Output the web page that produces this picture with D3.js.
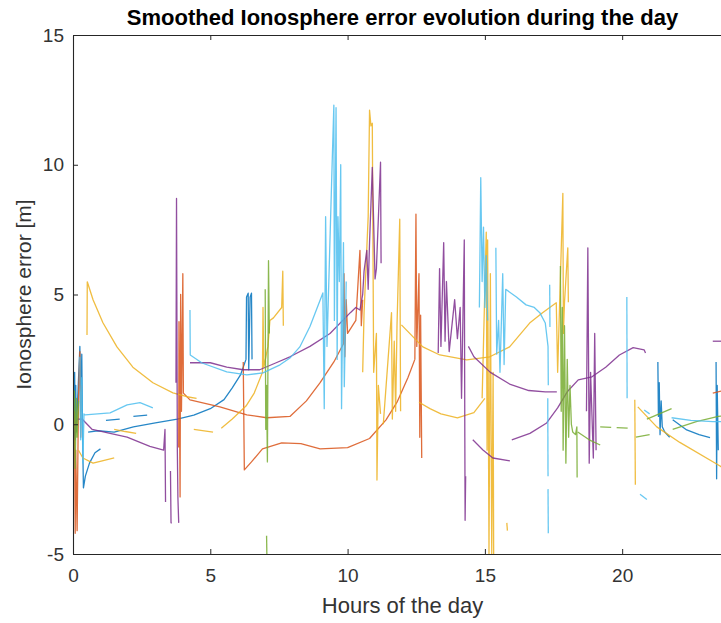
<!DOCTYPE html>
<html lang="en">
<head>
<meta charset="UTF-8">
<title>Smoothed Ionosphere error</title>
<script src="https://cdn.jsdelivr.net/npm/d3@7"></script>
<style>
  body { margin: 0; background: #fff; }
  svg { display: block; font-family: "Liberation Sans", Arial, sans-serif; }
  .tick text { fill: #333; font-size: 19px; }
  .domain, .tick line { stroke: #262626; }
</style>
</head>
<body>
<svg id="chart" width="721" height="623"></svg>
<script>
// axis ticks
const xTicks = [0, 5, 10, 15, 20];
const yTicks = [-5, 0, 5, 10, 15];

// blue traces [hour, error]
const blue1 = [[0.02,1.9],[0.04,0.5],[0.06,2.0],[0.08,-0.6],[0.1,1.5],[0.12,-0.3],[0.25,3.0],[0.28,0.5],[0.32,2.7],[0.35,-0.5],[0.38,-2.45],[0.45,-2.0],[0.6,-1.5],[0.8,-1.1],[1.0,-0.95]];
const blue2 = [[0.55,-0.3],[0.9,-0.25],[1.5,-0.3],[2.2,-0.1],[3.0,0.05],[3.8,0.2],[4.4,0.35],[5.0,0.6],[5.5,0.95],[5.8,1.4],[6.1,1.9],[6.3,2.5],[6.32,4.9],[6.38,5.05],[6.4,2.1],[6.45,4.9],[6.5,5.05],[6.52,2.5]];
const blue3 = [[1.2,0.15],[1.7,0.2]];
const blue4 = [[2.2,0.3],[2.7,0.35]];
const blue5 = [[21.3,2.4],[21.32,0.3],[21.35,1.6],[21.38,-0.4],[21.42,0.9],[21.46,-0.1],[21.55,-0.3],[21.73,-0.5]];
const blue6 = [[21.84,0.17],[22.35,-0.22],[22.8,-0.4],[23.2,-0.52]];
const blue7 = [[23.42,2.4],[23.44,-2.1],[23.46,1.5],[23.5,-1.0]];

// orange traces
const orange1 = [[0.05,0.5],[0.08,-4.2],[0.1,-1.0],[0.15,-4.1],[0.2,1.0],[0.25,2.8],[0.28,-0.5],[0.3,1.5]];
const orange2 = [[3.85,-0.9],[3.86,3.95],[3.9,-2.8],[3.92,5.0],[3.95,0.5],[4.0,5.8],[4.02,1.2],[4.26,0.94],[5.35,0.67],[6.33,0.36],[7.06,0.25],[7.9,0.3],[8.5,0.9],[9.0,1.6],[9.5,2.4],[9.85,3.1],[9.87,5.8],[9.9,2.6],[9.95,4.8],[10.0,3.5],[10.3,4.0],[10.45,6.7],[10.5,3.8],[10.55,4.8]];
const orange3 = [[6.2,2.4],[6.24,-1.76],[6.5,-1.45],[6.9,-0.95],[7.6,-0.72],[8.3,-0.75],[9.0,-0.95],[10.0,-0.9],[10.8,-0.55],[11.4,0.17],[11.8,0.85],[12.2,1.8],[12.45,2.5]];
const orange4 = [[12.45,2.5],[12.49,8.1],[12.52,3.0],[12.6,5.8],[12.63,-0.5],[12.66,4.2],[12.7,-1.3]];
const orange5 = [[23.3,1.2],[23.7,1.3]];

// yellow traces
const yellow1 = [[0.51,3.44],[0.52,5.49],[0.73,4.8],[1.09,3.91],[1.6,2.98],[2.18,2.2],[2.91,1.6],[3.64,1.21],[4.15,1.06],[4.5,1.0]];
const yellow2 = [[0.2,-1.0],[0.36,-1.3],[0.73,-1.5],[1.1,-1.4],[1.5,-1.3]];
const yellow3 = [[1.5,-0.2],[1.9,-0.28],[2.3,-0.35]];
const yellow4 = [[4.4,-0.2],[5.1,-0.3]];
const yellow5 = [[5.4,-0.15],[5.8,0.2],[6.3,0.7],[6.6,1.2],[6.9,2.0],[6.92,4.5],[6.95,2.2],[7.1,3.0],[7.17,4.0],[7.3,4.1],[7.6,4.5],[7.64,5.9],[7.66,3.8]];
const yellow6 = [[10.55,2.0],[10.6,4.3],[10.75,8.0],[10.8,12.1],[10.85,11.5],[10.9,11.6],[10.95,2.0],[11.05,3.5],[11.07,-2.15],[11.12,1.5],[11.2,0.4]];
const yellow7 = [[11.3,0.0],[11.6,4.3],[11.63,0.2],[11.7,3.2],[11.75,0.5],[11.8,3.8],[11.9,7.9],[11.93,0.5]];
const yellow8 = [[11.96,3.83],[12.74,2.98],[13.36,2.67],[14.34,2.48],[15.18,2.6],[15.9,2.98],[16.63,3.9],[17.1,4.3],[17.6,4.68],[17.65,2.0],[17.84,8.9],[17.86,3.5],[17.9,4.7],[18.02,6.8],[18.04,4.7]];
const yellow9 = [[12.6,0.85],[13.0,0.6],[13.4,0.4],[14.0,0.25],[14.6,0.45],[15.0,1.0]];
const yellow10 = [[14.9,1.0],[15.05,7.4],[15.08,-1.0],[15.1,7.1],[15.15,-5],[15.2,5.8],[15.25,-5],[15.3,2.0],[15.32,-5]];
const yellow11 = [[15.8,-3.8],[15.82,-4.1]];
const yellow12 = [[20.46,0.94],[20.48,-2.33]];
const yellow13 = [[20.57,0.67],[21.26,-0.1],[22.1,-0.7],[23.55,-1.6],[24,-1.9]];

// purple traces
const purple1 = [[0,-0.7],[0.1,-0.05],[0.15,0.2],[0.33,0.2],[0.7,-0.2],[1.35,-0.35],[1.97,-0.5],[2.44,-0.7],[2.8,-0.85],[3.3,-1.0],[3.35,-0.2],[3.37,-3.0]];
const purple2 = [[3.55,-1.8],[3.57,-3.8],[3.6,-3.8]];
const purple3 = [[3.75,1.6],[3.77,8.7],[3.8,-1.0],[3.82,-2.8],[3.85,-3.8]];
const purple4 = [[4.26,2.37],[5.0,2.37],[5.6,2.2],[6.2,2.1],[6.8,2.1],[7.4,2.37],[7.9,2.6],[8.63,3.0],[9.36,3.5],[10.1,4.3],[10.3,4.5],[10.45,4.4],[10.55,5.0],[10.6,5.9],[10.7,6.7],[10.75,5.2],[10.8,7.0],[10.9,9.9],[11.0,5.6],[11.05,6.0],[11.2,10.1],[11.22,6.2]];
const purple5 = [[13.3,2.75],[13.35,6.0],[13.4,3.0],[13.5,7.0],[13.55,3.2],[13.6,5.5],[13.7,2.8],[13.9,4.8],[14.0,3.3],[14.1,4.5],[14.15,1.0],[14.25,7.1],[14.27,-0.5],[14.28,-3.7],[14.3,-2.0]];
const purple6 = [[14.4,3.0],[14.6,2.6],[15.2,2.0],[15.9,1.55],[16.6,1.3],[17.2,1.25],[17.62,1.25]];
const purple7 = [[14.56,-0.6],[14.93,-0.99],[15.29,-1.3],[15.91,-1.41]];
const purple8 = [[15.98,-0.6],[16.64,-0.35],[17.25,0.05],[17.65,0.63],[18.0,1.25],[18.4,1.71],[18.9,1.83],[19.4,2.2],[19.9,2.67],[20.4,2.95],[20.8,2.87],[20.85,2.75]];
const purple9 = [[18.7,0.5],[18.75,6.8],[18.8,-1.5],[18.85,2.0],[18.95,-1.3],[19.0,3.5],[19.05,-1.0]];
const purple10 = [[23.3,3.2],[24,3.2]];

// green traces
const green1 = [[0.05,1.3],[0.08,-1.7],[0.12,1.0],[0.15,-0.5],[0.2,0.9]];
const green2 = [[7.0,5.2],[7.02,-0.2],[7.05,1.5],[7.08,-1.45],[7.12,6.3],[7.15,3.5]];
const green3 = [[7.05,-4.3],[7.06,-5]];
const green4 = [[17.75,6.1],[17.78,0.5],[17.82,4.5],[17.85,-1.0],[17.9,3.8],[17.95,-1.5],[18.0,2.5],[18.05,-0.5],[18.1,1.5],[18.15,0.0],[18.2,-0.3],[18.3,-0.4],[18.35,-0.1],[18.36,-2.05]];
const green5 = [[18.38,-0.3],[18.8,-0.6],[19.2,-0.8]];
const green6 = [[19.2,-0.1],[19.6,-0.12]];
const green7 = [[19.8,-0.13],[20.2,-0.15]];
const green8 = [[20.5,-0.5],[21.0,-0.4]];
const green9 = [[20.9,0.2],[21.8,0.6]];
const green10 = [[21.84,-0.2],[22.7,0.1],[23.5,0.3],[24,0.35]];

// light blue traces
const cyan1 = [[0.25,2.6],[0.28,-0.6],[0.32,1.8],[0.36,-1.5],[0.4,0.4],[0.44,0.36],[1.35,0.44],[1.97,0.75],[2.44,0.83],[2.91,0.63]];
const cyan2 = [[4.26,4.4],[4.27,2.67],[4.7,2.36],[5.6,2.02],[6.33,1.9],[6.92,1.98],[7.54,2.29],[7.9,2.55],[8.26,2.98],[8.63,3.77],[9.1,5.06],[9.15,0.6],[9.2,8.0],[9.25,3.0],[9.45,10.5],[9.5,12.3],[9.52,4.0],[9.58,12.2],[9.62,2.5],[9.65,8.0],[9.7,5.5],[9.75,10.0],[9.78,0.6],[9.85,7.0],[9.88,1.45],[9.95,5.5]];
const cyan3 = [[14.8,4.5],[14.85,9.5],[14.9,5.5],[14.95,7.6],[15.0,4.5],[15.05,6.5],[15.1,4.0]];
const cyan4 = [[15.4,6.8],[15.43,2.7],[15.5,4.0],[15.55,2.0],[15.65,5.8],[15.7,2.3],[15.76,5.2],[16.15,4.9],[16.5,4.6],[16.8,4.5],[17.0,4.3],[17.2,3.9],[17.3,3.0],[17.31,1.5]];
const cyan5 = [[17.36,5.38],[17.37,3.75]];
const cyan6 = [[17.29,1.0],[17.3,-2.0]];
const cyan7 = [[17.3,-2.5],[17.31,-4.2]];
const cyan8 = [[20.17,4.9],[20.18,1.0]];
const cyan9 = [[20.65,-2.7],[20.9,-2.9]];
const cyan10 = [[20.8,0.55],[21.0,0.4]];
const cyan11 = [[21.8,0.25],[22.5,0.15],[23.3,0.1],[24,0.1]];

const traces = [
  [blue1, "#0072BD"], [blue2, "#0072BD"], [blue3, "#0072BD"], [blue4, "#0072BD"],
  [blue5, "#0072BD"], [blue6, "#0072BD"], [blue7, "#0072BD"],
  [orange1, "#D95319"], [orange2, "#D95319"], [orange3, "#D95319"], [orange4, "#D95319"], [orange5, "#D95319"],
  [yellow1, "#EDB120"], [yellow2, "#EDB120"], [yellow3, "#EDB120"], [yellow4, "#EDB120"], [yellow5, "#EDB120"],
  [yellow6, "#EDB120"], [yellow7, "#EDB120"], [yellow8, "#EDB120"], [yellow9, "#EDB120"], [yellow10, "#EDB120"],
  [yellow11, "#EDB120"], [yellow12, "#EDB120"], [yellow13, "#EDB120"],
  [purple1, "#7E2F8E"], [purple2, "#7E2F8E"], [purple3, "#7E2F8E"], [purple4, "#7E2F8E"], [purple5, "#7E2F8E"],
  [purple6, "#7E2F8E"], [purple7, "#7E2F8E"], [purple8, "#7E2F8E"], [purple9, "#7E2F8E"], [purple10, "#7E2F8E"],
  [green1, "#77AC30"], [green2, "#77AC30"], [green3, "#77AC30"], [green4, "#77AC30"], [green5, "#77AC30"],
  [green6, "#77AC30"], [green7, "#77AC30"], [green8, "#77AC30"], [green9, "#77AC30"], [green10, "#77AC30"],
  [cyan1, "#4DBEEE"], [cyan2, "#4DBEEE"], [cyan3, "#4DBEEE"], [cyan4, "#4DBEEE"], [cyan5, "#4DBEEE"],
  [cyan6, "#4DBEEE"], [cyan7, "#4DBEEE"], [cyan8, "#4DBEEE"], [cyan9, "#4DBEEE"], [cyan10, "#4DBEEE"], [cyan11, "#4DBEEE"]
];

const svg = d3.select('#chart');
const mLeft = 73, mTop = 35, mRight = 732, mBottom = 554;

const x = d3.scaleLinear().domain([0, 24]).range([mLeft, mRight]);
const y = d3.scaleLinear().domain([-5, 15]).range([mBottom, mTop]);

svg.append('clipPath').attr('id', 'clip')
  .append('rect').attr('x', mLeft).attr('y', mTop)
  .attr('width', mRight - mLeft).attr('height', mBottom - mTop);

const line = d3.line().x(d => x(d[0])).y(d => y(d[1]));

svg.append('g').attr('clip-path', 'url(#clip)')
  .selectAll('path')
  .data(traces)
  .enter()
  .append('path')
  .attr('d', d => line(d[0]))
  .attr('fill', 'none')
  .attr('stroke', d => d[1])
  .attr('stroke-width', 1.3)
  .attr('stroke-opacity', 0.85)
  .attr('stroke-linejoin', 'round');

// axes, ticks inward like matlab, plain hyphen for negatives
const fmt = d => String(d);
svg.append('g').attr('transform', `translate(0,${mBottom})`)
  .call(d3.axisBottom(x).tickValues(xTicks).tickFormat(fmt).tickSizeInner(-5).tickSizeOuter(0).tickPadding(15));
svg.append('g').attr('transform', `translate(0,${mTop})`)
  .call(d3.axisTop(x).tickValues(xTicks).tickSizeInner(-5).tickSizeOuter(0).tickFormat(''));
svg.append('g').attr('transform', `translate(${mLeft},0)`)
  .call(d3.axisLeft(y).tickValues(yTicks).tickFormat(fmt).tickSizeInner(-5).tickSizeOuter(0).tickPadding(9));
svg.selectAll('.domain').attr('stroke-width', 1.1);

// title and labels
svg.append('text')
  .attr('x', (mLeft + mRight) / 2).attr('y', 25)
  .attr('text-anchor', 'middle')
  .attr('font-size', 22).attr('font-weight', 'bold').attr('fill', '#000')
  .text('Smoothed Ionosphere error evolution during the day');

svg.append('text')
  .attr('x', (mLeft + mRight) / 2).attr('y', 613)
  .attr('text-anchor', 'middle')
  .attr('font-size', 22).attr('fill', '#333')
  .text('Hours of the day');

svg.append('text')
  .attr('transform', `translate(31,${(mTop + mBottom) / 2}) rotate(-90)`)
  .attr('text-anchor', 'middle')
  .attr('font-size', 21).attr('fill', '#333')
  .text('Ionosphere error [m]');
</script>
</body>
</html>
